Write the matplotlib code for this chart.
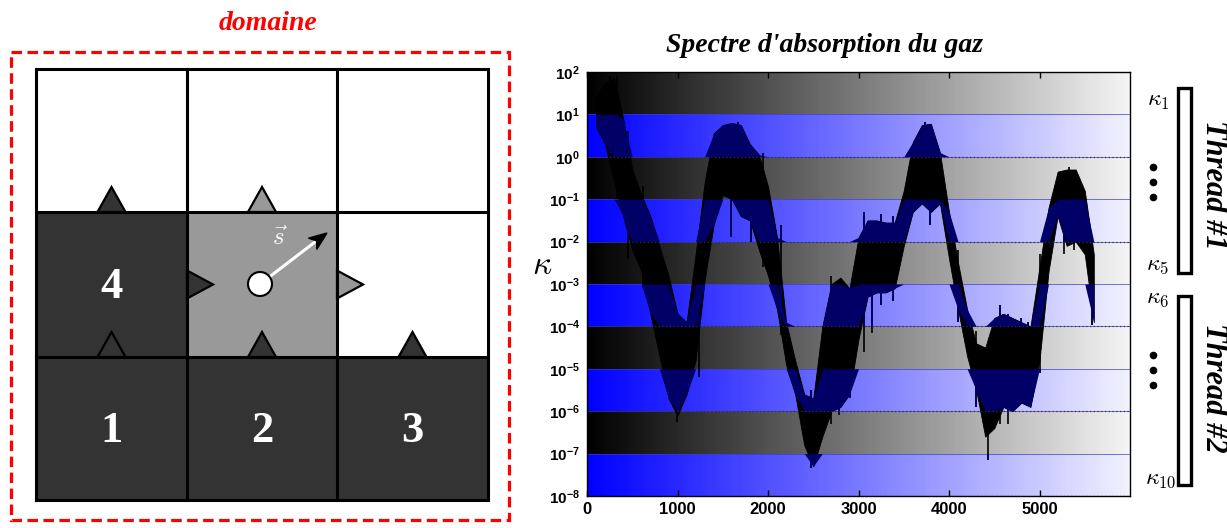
import matplotlib
matplotlib.use('Agg')
import matplotlib.pyplot as plt
import numpy as np
from matplotlib.colors import LinearSegmentedColormap
from matplotlib.patches import Rectangle, Polygon, Circle

plt.rcParams['mathtext.fontset'] = 'custom'
plt.rcParams['mathtext.bf'] = 'Liberation Sans:bold'
plt.rcParams['mathtext.rm'] = 'Liberation Sans:bold'

# --- spectrum: envelope of the noisy absorption curve, log10(kappa)
wavenumber = [100, 200, 300, 400, 500, 600, 700, 800, 900, 1000,
              1100, 1200, 1300, 1400, 1500, 1600, 1700, 1800, 1900, 2000,
              2100, 2200, 2300, 2400, 2500, 2600, 2700, 2800, 2900, 3000,
              3100, 3200, 3300, 3400, 3500, 3600, 3700, 3800, 3900, 4000,
              4100, 4200, 4300, 4400, 4500, 4600, 4700, 4800, 4900, 5000,
              5100, 5200, 5300, 5400, 5500, 5600]
log_upper = [1.4, 1.75, 1.85, 0.9, -0.3, -0.9, -1.4, -2.1, -2.8, -3.7,
             -3.9, -2.3, -0.6, 0.55, 0.75, 0.8, 0.75, 0.3, 0.05, -0.7,
             -1.9, -3.9, -4.8, -5.6, -5.7, -4.0, -3.0, -2.85, -3.1, -1.9,
             -1.5, -1.5, -1.55, -1.55, -0.8, 0.35, 0.75, 0.78, 0.1, -1.3,
             -2.5, -3.6, -4.4, -4.5, -3.8, -3.7, -3.8, -3.9, -4.0, -2.6,
             -1.2, -0.35, -0.3, -0.3, -0.8, -2.3]
log_lower = [0.7, 0.3, -0.6, -1.4, -2.2, -2.7, -3.7, -4.7, -5.7, -6.1,
             -5.6, -4.8, -2.9, -1.6, -0.9, -1.0, -1.4, -1.5, -2.2, -2.8,
             -3.6, -4.9, -5.6, -6.8, -7.3, -6.6, -6.0, -5.9, -5.6, -4.3,
             -3.3, -3.2, -3.2, -3.1, -2.1, -1.3, -1.1, -1.3, -1.1, -2.4,
             -3.6, -4.7, -5.5, -6.6, -6.4, -5.9, -6.0, -5.8, -5.9, -4.8,
             -2.7, -1.4, -2.1, -2.0, -2.3, -3.9]
# isolated spikes of the curve
spike_x = [250, 330, 450, 620, 990, 1240, 1590, 1664, 1810, 1950, 2140, 2470,
           2615, 2700, 2780, 2908, 3060, 3146, 3250, 3380, 3732, 3787, 4100,
           4300, 4430, 4560, 4648, 4795, 4868, 5010, 5272, 5327, 5382, 5583]
spike_lo = [-0.2, -1.0, -2.4, -3.1, -6.25, -5.2, -1.9, -0.5, -2.0, -2.6, -4.2, -7.35,
            -5.9, -6.3, -6.1, -5.7, -4.6, -4.15, -3.5, -3.4, -0.5, -1.6, -3.9,
            -5.9, -7.15, -6.3, -6.3, -5.7, -5.8, -5.1, -2.3, -1.0, -2.2, -3.97]
spike_hi = [1.9, 1.9, 0.6, -0.7, -4.5, -2.8, 0.5, 0.82, 0.0, 0.1, -1.6, -5.5,
            -4.0, -2.8, -3.0, -3.2, -1.3, -1.6, -1.35, -1.4, 0.82, 0.7, -2.2,
            -4.1, -4.5, -3.5, -3.7, -3.8, -3.9, -2.3, -0.4, -0.25, -0.3, -2.0]

decades = list(range(2, -9, -1))          # 10^2 ... 10^-8
x_ticks = [0, 1000, 2000, 3000, 4000, 5000]

# --- mesh sketch
col_edges = [36, 187, 337, 488]
row_edges = [69, 212, 357, 500]
cell_colors = [['white', 'white', 'white'],
               ['#333333', '#999999', 'white'],
               ['#333333', '#333333', '#333333']]
cell_labels = [(1, 0, '4'), (2, 0, '1'), (2, 1, '2'), (2, 2, '3')]
# (column, horizontal line index, fill) for upward triangles
up_faces = [(0, 1, '#333333'), (1, 1, '#999999'),
            (0, 2, '#333333'), (1, 2, '#333333'), (2, 2, '#333333')]
# (vertical line index, row, fill) for rightward triangles
right_faces = [(1, 1, '#333333'), (2, 1, '#999999')]

fig = plt.figure(figsize=(12.27, 5.28), dpi=100)

# pixel-coordinate layer for the sketch and annotations
ax0 = fig.add_axes([0, 0, 1, 1])
ax0.set_xlim(0, 1227)
ax0.set_ylim(528, 0)
ax0.axis('off')
ax0.patch.set_visible(False)

serif = 'Liberation Serif'

ax0.add_patch(Rectangle((11, 52), 498, 468, fill=False, ec='red', lw=2.3,
                        ls=(0, (3.3, 1.7))))
ax0.text(268, 23, 'domaine', color='red', fontsize=20, family=serif,
         weight='bold', style='italic', ha='center', va='center')

for r in range(3):
    for c in range(3):
        ax0.add_patch(Rectangle((col_edges[c], row_edges[r]),
                                col_edges[c + 1] - col_edges[c],
                                row_edges[r + 1] - row_edges[r],
                                fc=cell_colors[r][c], ec='none', zorder=1))

for c, line, fc in up_faces:
    xc = (col_edges[c] + col_edges[c + 1]) / 2
    yl = row_edges[line]
    ax0.add_patch(Polygon([(xc - 14, yl), (xc + 14, yl), (xc, yl - 25)],
                          closed=True, fc=fc, ec='black', lw=1.6, zorder=2))
for line, r, fc in right_faces:
    xl = col_edges[line]
    yc = (row_edges[r] + row_edges[r + 1]) / 2
    ax0.add_patch(Polygon([(xl, yc - 14), (xl, yc + 14), (xl + 26, yc)],
                          closed=True, fc=fc, ec='black', lw=1.6, zorder=2))

for xe in col_edges:
    ax0.plot([xe, xe], [row_edges[0], row_edges[-1]], color='black', lw=2.2,
             zorder=3, solid_capstyle='projecting')
for ye in row_edges:
    ax0.plot([col_edges[0], col_edges[-1]], [ye, ye], color='black', lw=2.2,
             zorder=3, solid_capstyle='projecting')

for r, c, lab in cell_labels:
    ax0.text((col_edges[c] + col_edges[c + 1]) / 2, (row_edges[r] + row_edges[r + 1]) / 2 + 2,
             lab, color='white', fontsize=32, family=serif, weight='bold',
             ha='center', va='center', zorder=4)

# direction vector from the cell centre
cx, cy = 260, 284
ux, uy = 0.8, -0.6
tip = (327, 233)
ax0.plot([cx + 12 * ux, tip[0] - 15 * ux], [cy + 12 * uy, tip[1] - 15 * uy],
         color='white', lw=2.2, zorder=5)
bx, by = tip[0] - 18 * ux, tip[1] - 18 * uy
px, py = -uy, ux
ax0.add_patch(Polygon([tip, (bx + 7 * px, by + 7 * py), (bx + 5 * ux, by + 5 * uy),
                       (bx - 7 * px, by - 7 * py)], closed=True, fc='black',
                      ec='black', zorder=6))
ax0.add_patch(Circle((cx, cy), 12, fc='white', ec='black', lw=1.5, zorder=6))
ax0.text(280, 238, r'$\vec{s}$', color='white', fontsize=18, math_fontfamily='cm',
         ha='center', va='center', zorder=6)

# --- right-hand annotations (threads)
kap = dict(fontsize=17, math_fontfamily='cm', ha='center', va='center')
ax0.text(1158, 100, r'$\kappa_1$', **kap)
ax0.text(1158, 264, r'$\kappa_5$', **kap)
ax0.text(1158, 297, r'$\kappa_6$', **kap)
ax0.text(1161, 478, r'$\kappa_{10}$', **kap)
for yd in [167, 182, 197, 355, 370, 385]:
    ax0.plot(1153, yd, 'o', color='black', ms=4.5)
ax0.add_patch(Rectangle((1178, 88), 13, 185, fill=False, ec='black', lw=2.4))
ax0.add_patch(Rectangle((1178, 296), 13, 189, fill=False, ec='black', lw=2.4))
ax0.text(1213, 185, 'Thread #1', rotation=-90, fontsize=22, family=serif,
         weight='bold', style='italic', ha='center', va='center')
ax0.text(1213, 388, 'Thread #2', rotation=-90, fontsize=22, family=serif,
         weight='bold', style='italic', ha='center', va='center')

ax0.text(542, 264, r'$\kappa$', fontsize=24, math_fontfamily='cm',
         ha='center', va='center')
fig.text(825 / 1227, 1 - 45 / 528, "Spectre d'absorption du gaz", fontsize=20,
         family=serif, weight='bold', style='italic', ha='center', va='center')

# --- spectrum axes
ax = fig.add_axes([587 / 1227, 32 / 528, 543 / 1227, 424 / 528])
ax.set_yscale('log')
ax.set_xlim(0, 6000)
ax.set_ylim(1e-8, 1e2)

gray_cmap = LinearSegmentedColormap.from_list('g', [(0, 0, 0), (0.96, 0.96, 0.96)])
blue_cmap = LinearSegmentedColormap.from_list('b', [(0, 0, 1), (0.95, 0.95, 1)])
xg = np.linspace(0, 6000, 301)
for i in range(len(decades) - 1):
    top, bot = decades[i], decades[i + 1]
    cmap = gray_cmap if i % 2 == 0 else blue_cmap
    ax.pcolormesh(xg, [10.0 ** bot, 10.0 ** top], xg[None, :-1], cmap=cmap,
                  shading='flat', vmin=0, vmax=6000, zorder=0, rasterized=True)
    if i % 2 == 1:
        for yb in (top, bot):
            ax.axhline(10.0 ** yb, color='#3a3ad0', lw=0.7, alpha=0.7, zorder=1)

x = np.array(wavenumber)
lo = np.array(log_lower)
hi = np.array(log_upper)
ax.fill_between(x, 10 ** lo, 10 ** hi, color='black', lw=0.6, zorder=2)
ax.vlines(spike_x, 10 ** np.array(spike_lo), 10 ** np.array(spike_hi),
          color='black', lw=1.2, zorder=2)

navy = '#000066'
for i in range(1, len(decades) - 1, 2):
    top, bot = decades[i], decades[i + 1]
    ax.fill_between(x, 10 ** np.clip(lo, bot, top), 10 ** np.clip(hi, bot, top),
                    color=navy, lw=0, zorder=3)
    slo = np.clip(spike_lo, bot, top)
    shi = np.clip(spike_hi, bot, top)
    keep = shi > slo
    ax.vlines(np.array(spike_x)[keep], 10 ** slo[keep], 10 ** shi[keep],
              color=navy, lw=1.2, zorder=3)

for yd in [0, -2, -4, -6, -8]:
    ax.axhline(10.0 ** yd, color='#333333', lw=0.9, ls=(0, (1, 2)), zorder=4)

ax.set_xticks(x_ticks)
ax.set_yticks([10.0 ** d for d in decades])
ax.set_yticklabels([r'$\mathbf{10^{%d}}$' % d for d in decades])
ax.yaxis.set_minor_locator(matplotlib.ticker.NullLocator())
ax.tick_params(axis='x', direction='in', top=True, length=4, width=1,
               labelsize=12, pad=4)
ax.tick_params(axis='y', length=0, labelsize=11, pad=5)
for lab in ax.get_xticklabels():
    lab.set_fontfamily('Liberation Sans')
    lab.set_fontweight('bold')
for sp in ax.spines.values():
    sp.set_linewidth(1.0)
    sp.set_zorder(5)

fig.savefig('out.png', dpi=100)
